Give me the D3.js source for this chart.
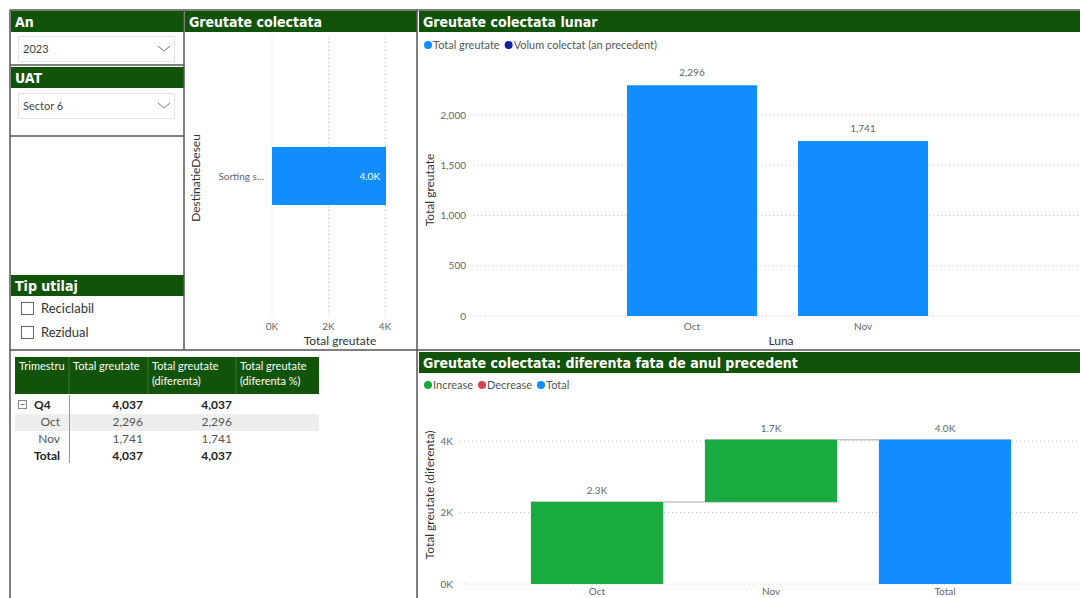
<!DOCTYPE html>
<html>
<head>
<meta charset="utf-8">
<script src="https://cdn.jsdelivr.net/npm/d3@7"></script>
<style>
  html, body { margin: 0; padding: 0; background: #fff; overflow: hidden; }
  svg { display: block; }
  .title { font-family: "Liberation Sans Narrow", "DejaVu Sans Condensed", sans-serif; font-weight: bold; font-size: 14px; fill: #fff; }
  .body { font-family: "Lato", "Noto Sans", sans-serif; }
  .tick-lbl { font-family: "Lato", sans-serif; font-size: 10px; fill: #666; }
  .axis-title { font-family: "Lato", sans-serif; font-size: 12px; fill: #333; }
</style>
</head>
<body>
<svg id="dash" width="1080" height="598"></svg>
<script>
// ---- data ----
const years = ["2023"];
const uats = ["Sector 6"];
const equipmentTypes = ["Reciclabil", "Rezidual"];

const destinations = ["Sorting s..."];
const destinationWeight = [4037];
const destTicks = [0, 2000, 4000];

const months = ["Oct", "Nov"];
const monthlyWeight = [2296, 1741];
const monthlyTicks = [0, 500, 1000, 1500, 2000];
const legendMonthly = ["Total greutate", "Volum colectat (an precedent)"];

const waterfallCats = ["Oct", "Nov", "Total"];
const diffValues = [2296, 1741];
const diffTicks = [0, 2000, 4000];
const legendWaterfall = ["Increase", "Decrease", "Total"];

const tableHeaders = [["Trimestru"], ["Total greutate"], ["Total greutate", "(diferenta)"], ["Total greutate", "(diferenta %)"]];
const tableRows = [
  { label: "Q4", total: 4037, diff: 4037, kind: "group" },
  { label: "Oct", total: 2296, diff: 2296, kind: "child" },
  { label: "Nov", total: 1741, diff: 1741, kind: "child" },
  { label: "Total", total: 4037, diff: 4037, kind: "total" }
];

// ---- palette ----
const HEADER_GREEN = "#115309";
const BLUE = "#118DFF";
const DARK_BLUE = "#12239E";
const GREEN = "#1AAB40";
const RED = "#D64550";
const FRAME = "#555";
const GRID = "#c8c8c8";

const svg = d3.select("#dash");
const fmtInt = d3.format(",");
const fmtK = v => d3.format(".1f")(v / 1000) + "K";
const fmtTickK = v => (v / 1000) + "K";

// ---- panel headers ----
function header(x, y, w, h, text) {
  svg.append("rect").attr("x", x).attr("y", y).attr("width", w).attr("height", h).attr("fill", HEADER_GREEN);
  svg.append("text").attr("class", "title").attr("x", x + 4).attr("y", y + h / 2 + 5).text(text);
}

// ---- slicers ----
header(11, 11, 173, 21, "An");
header(11, 67, 173, 21, "UAT");
header(11, 275, 173, 21, "Tip utilaj");

function dropdown(y, value) {
  svg.append("rect").attr("x", 18.5).attr("y", y + 0.5).attr("width", 156).attr("height", 25)
    .attr("fill", "#fff").attr("stroke", "#e3e3e3");
  svg.append("text").attr("class", "body").attr("x", 23).attr("y", y + 17)
    .attr("font-size", 11).attr("fill", "#444").text(value);
  svg.append("path").attr("d", `M158,${y + 10} l6,5 l6,-5`).attr("fill", "none").attr("stroke", "#777").attr("stroke-width", 1);
}
dropdown(36, years[0]);
dropdown(93, uats[0]);

equipmentTypes.forEach((t, i) => {
  const y = 302 + i * 24;
  svg.append("rect").attr("x", 21.5).attr("y", y + 0.5).attr("width", 12).attr("height", 12)
    .attr("fill", "#fff").attr("stroke", "#666");
  svg.append("text").attr("class", "body").attr("x", 41).attr("y", y + 11)
    .attr("font-size", 13).attr("fill", "#333").text(t);
});

// ---- horizontal bar: Greutate colectata ----
header(185, 11, 232, 21, "Greutate colectata");
{
  const x = d3.scaleLinear().domain([0, 4000]).range([272, 385]);
  const y = d3.scaleBand().domain(destinations).range([118, 234]).paddingInner(0).paddingOuter(0.5);
  const g = svg.append("g");
  destTicks.forEach(t => {
    g.append("line").attr("x1", x(t)).attr("x2", x(t)).attr("y1", 38).attr("y2", 316)
      .attr("stroke", GRID).attr("stroke-dasharray", "1,3");
    g.append("text").attr("class", "tick-lbl").attr("x", x(t)).attr("y", 330)
      .attr("text-anchor", "middle").text(fmtTickK(t));
  });
  destinations.forEach((d, i) => {
    g.append("rect").attr("x", x(0)).attr("y", y(d)).attr("width", x(destinationWeight[i]) - x(0))
      .attr("height", y.bandwidth()).attr("fill", BLUE);
    g.append("text").attr("class", "tick-lbl").attr("x", 264).attr("y", y(d) + y.bandwidth() / 2 + 3.5)
      .attr("text-anchor", "end").text(d);
    g.append("text").attr("class", "body").attr("x", x(destinationWeight[i]) - 6)
      .attr("y", y(d) + y.bandwidth() / 2 + 4).attr("text-anchor", "end")
      .attr("font-size", 10).attr("fill", "#fff").text(fmtK(destinationWeight[i]));
  });
  g.append("text").attr("class", "axis-title").attr("x", 340).attr("y", 345)
    .attr("text-anchor", "middle").text("Total greutate");
  g.append("text").attr("class", "axis-title").attr("transform", "translate(200,178) rotate(-90)")
    .attr("text-anchor", "middle").text("DestinatieDeseu");
}

// ---- column chart: Greutate colectata lunar ----
header(419, 11, 661, 21, "Greutate colectata lunar");
function legend(x0, y0, items, colors) {
  let x = x0;
  items.forEach((t, i) => {
    svg.append("circle").attr("cx", x + 4).attr("cy", y0 - 4).attr("r", 4).attr("fill", colors[i]);
    const txt = svg.append("text").attr("class", "body").attr("x", x + 9).attr("y", y0)
      .attr("font-size", 11).attr("fill", "#555").text(t);
    x += 9 + txt.node().getComputedTextLength() + 5;
  });
}
legend(424, 49, legendMonthly, [BLUE, DARK_BLUE]);
{
  const y = d3.scaleLinear().domain([0, 2000]).range([316, 115]);
  const x = d3.scaleBand().domain(months).range([606.5, 948.5]).paddingInner(0.24).paddingOuter(0.12);
  const g = svg.append("g");
  monthlyTicks.forEach(t => {
    g.append("line").attr("x1", 473).attr("x2", 1080).attr("y1", y(t)).attr("y2", y(t))
      .attr("stroke", GRID).attr("stroke-dasharray", "1,3");
    g.append("text").attr("class", "tick-lbl").attr("x", 466).attr("y", y(t) + 3.5)
      .attr("text-anchor", "end").text(fmtInt(t));
  });
  months.forEach((m, i) => {
    g.append("rect").attr("x", x(m)).attr("y", y(monthlyWeight[i])).attr("width", x.bandwidth())
      .attr("height", y(0) - y(monthlyWeight[i])).attr("fill", BLUE);
    g.append("text").attr("class", "tick-lbl").attr("x", x(m) + x.bandwidth() / 2)
      .attr("y", y(monthlyWeight[i]) - 9).attr("text-anchor", "middle").text(fmtInt(monthlyWeight[i]));
    g.append("text").attr("class", "tick-lbl").attr("x", x(m) + x.bandwidth() / 2)
      .attr("y", 330).attr("text-anchor", "middle").text(m);
  });
  g.append("text").attr("class", "axis-title").attr("x", 781).attr("y", 345)
    .attr("text-anchor", "middle").text("Luna");
  g.append("text").attr("class", "axis-title").attr("transform", "translate(434,190) rotate(-90)")
    .attr("text-anchor", "middle").text("Total greutate");
}

// ---- waterfall: diferenta fata de anul precedent ----
header(419, 352, 661, 21, "Greutate colectata: diferenta fata de anul precedent");
legend(424, 389, legendWaterfall, [GREEN, RED, BLUE]);
{
  const y = d3.scaleLinear().domain([0, 4000]).range([584, 441]);
  const x = d3.scaleBand().domain(waterfallCats).range([510, 1032]).paddingInner(0.24).paddingOuter(0.12);
  const g = svg.append("g");
  diffTicks.forEach(t => {
    g.append("line").attr("x1", 460).attr("x2", 1080).attr("y1", y(t)).attr("y2", y(t))
      .attr("stroke", GRID).attr("stroke-dasharray", "1,3");
    g.append("text").attr("class", "tick-lbl").attr("x", 453).attr("y", y(t) + 3.5)
      .attr("text-anchor", "end").text(fmtTickK(t));
  });
  // steps: each month starts where the previous ended, then a total bar
  let run = 0;
  const steps = diffValues.map((v, i) => {
    const s = { cat: waterfallCats[i], from: run, to: run + v, value: v, color: v >= 0 ? GREEN : RED };
    run += v;
    return s;
  });
  steps.push({ cat: waterfallCats[waterfallCats.length - 1], from: 0, to: run, value: run, color: BLUE });

  steps.forEach((s, i) => {
    if (i < steps.length - 1) {
      g.append("line").attr("x1", x(s.cat)).attr("x2", x(steps[i + 1].cat) + x.bandwidth())
        .attr("y1", y(s.to)).attr("y2", y(s.to)).attr("stroke", "#c6c6c6").attr("stroke-width", 1.5);
    }
  });
  steps.forEach(s => {
    const top = Math.max(s.from, s.to), bot = Math.min(s.from, s.to);
    g.append("rect").attr("x", x(s.cat)).attr("y", y(top)).attr("width", x.bandwidth())
      .attr("height", y(bot) - y(top)).attr("fill", s.color);
    g.append("text").attr("class", "tick-lbl").attr("x", x(s.cat) + x.bandwidth() / 2)
      .attr("y", y(top) - 8).attr("text-anchor", "middle").text(fmtK(s.value));
    g.append("text").attr("class", "tick-lbl").attr("x", x(s.cat) + x.bandwidth() / 2)
      .attr("y", 595).attr("text-anchor", "middle").text(s.cat);
  });
  g.append("text").attr("class", "axis-title").attr("transform", "translate(434,495) rotate(-90)")
    .attr("text-anchor", "middle").text("Total greutate (diferenta)");
}

// ---- matrix table ----
{
  const colX = [15, 69, 148, 236, 319];
  const g = svg.append("g").attr("class", "body");
  g.append("rect").attr("x", 15).attr("y", 357).attr("width", 304).attr("height", 37).attr("fill", HEADER_GREEN);
  colX.slice(1, 4).forEach(cx => {
    g.append("line").attr("x1", cx).attr("x2", cx).attr("y1", 357).attr("y2", 394).attr("stroke", "#3d7a34");
  });
  tableHeaders.forEach((lines, i) => {
    lines.forEach((l, j) => {
      g.append("text").attr("x", colX[i] + 4).attr("y", 370 + j * 15).attr("font-size", 11)
        .attr("fill", "#fff").text(l);
    });
  });
  const rowY = [405, 422, 439, 456];
  g.append("rect").attr("x", 15).attr("y", 414).attr("width", 304).attr("height", 17).attr("fill", "#eeeeee");
  tableRows.forEach((r, i) => {
    const bold = r.kind !== "child";
    const col = bold ? "#222" : "#555";
    const yb = rowY[i] + 4;
    if (r.kind === "group") {
      g.append("rect").attr("x", 18.5).attr("y", yb - 8.5).attr("width", 8).attr("height", 8)
        .attr("fill", "none").attr("stroke", "#888");
      g.append("line").attr("x1", 20.5).attr("x2", 24.5).attr("y1", yb - 4.5).attr("y2", yb - 4.5).attr("stroke", "#888");
      g.append("text").attr("x", 34).attr("y", yb).attr("font-size", 12).attr("font-weight", "bold").attr("fill", col).text(r.label);
    } else if (r.kind === "child") {
      g.append("text").attr("x", 60).attr("y", yb).attr("font-size", 12).attr("text-anchor", "end").attr("fill", col).text(r.label);
    } else {
      g.append("text").attr("x", 34).attr("y", yb).attr("font-size", 12).attr("font-weight", "bold").attr("fill", col).text(r.label);
    }
    [r.total, r.diff].forEach((v, k) => {
      g.append("text").attr("x", [143, 232][k]).attr("y", yb).attr("font-size", 12)
        .attr("font-weight", bold ? "bold" : "normal").attr("text-anchor", "end").attr("fill", col).text(fmtInt(v));
    });
  });
  g.append("line").attr("x1", 69.5).attr("x2", 69.5).attr("y1", 395).attr("y2", 463).attr("stroke", "#5aa7e8");
}

// ---- panel frames ----
const frames = [
  [10, 10, 1080, 10], [10, 10, 10, 598], [184, 10, 184, 350], [417, 10, 417, 598],
  [10, 350, 1080, 350], [10, 65, 184, 65], [10, 136, 184, 136]
];
frames.forEach(([x1, y1, x2, y2]) => {
  svg.append("line").attr("x1", x1).attr("y1", y1).attr("x2", x2).attr("y2", y2)
    .attr("stroke", FRAME).attr("stroke-width", 1.5);
});
</script>
</body>
</html>
